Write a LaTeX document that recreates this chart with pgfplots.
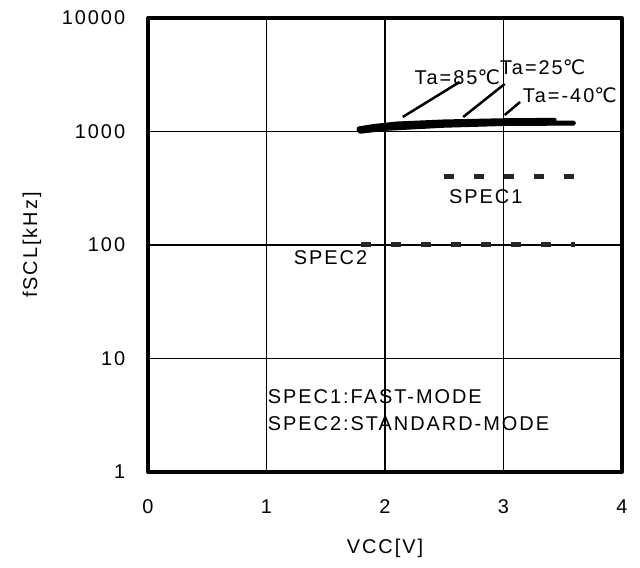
\documentclass[border=0pt]{standalone}
\usepackage{fontspec}
\setmainfont{Liberation Sans}[LetterSpace=10]
\newfontfamily\dejavu{DejaVu Sans}
\usepackage{pgfplots}
\pgfplotsset{compat=1.18}
\newcommand{\degc}{{\dejavu ℃}}
\begin{document}
\fontsize{20}{24}\selectfont
\begin{tikzpicture}
\path[use as bounding box] (-148bp,-96bp) rectangle (492bp,472bp);
\begin{axis}[
    scale only axis,
    width=474bp, height=454bp,
    xmin=0, xmax=4,
    ymode=log, ymin=1, ymax=10000,
    xtick={0,1,2,3,4},
    ytick={1,10,100,1000,10000},
    yticklabels={1,10,100,1000,10000},
    /pgf/number format/assume math mode=true,
    xmajorgrids=true, ymajorgrids=true,
    major grid style={black, line width=1.3bp},
    major tick length=0pt, minor tick length=0pt,
    axis line style={line width=4bp, line join=round},
    xticklabel style={yshift=-21bp},
    yticklabel style={xshift=-16bp},
    xlabel={VCC[V]}, ylabel={fSCL[kHz]},
    every axis x label/.style={at={(axis description cs:0.5,0)}, anchor=center, yshift=-76bp},
    every axis y label/.style={at={(axis description cs:-0.245,0.5)}, rotate=90, anchor=center},
    clip=false,
]
% Ta=85C
\addplot[black, line width=4.5bp, line cap=round] coordinates {(1.78,1060)(1.9,1110)(2.1,1170)(2.5,1220)(3.0,1250)(3.43,1260)};
% Ta=25C
\addplot[black, line width=4.5bp, line cap=round] coordinates {(1.78,1040)(2.0,1110)(2.5,1170)(3.0,1190)(3.59,1190)};
% Ta=-40C
\addplot[black, line width=4.5bp, line cap=round] coordinates {(1.79,1000)(2.0,1060)(2.5,1130)(3.0,1170)(3.59,1180)};
% SPEC1 / SPEC2
\addplot[black!85, line width=4.5bp, dash pattern=on 10bp off 20bp] coordinates {(2.5,400)(3.6,400)};
\addplot[black!85, line width=5bp, dash pattern=on 10bp off 20bp] coordinates {(1.8,100)(3.6,100)};
% leader lines
\draw[line width=2.5bp] (axis cs:2.15,1343) -- (axis cs:2.63,2730);
\draw[line width=2.5bp] (axis cs:2.66,1343) -- (axis cs:3.01,2623);
\draw[line width=2.5bp] (axis cs:3.01,1397) -- (axis cs:3.14,1820);
\node at (axis cs:2.61,3020) {Ta=85\degc};
\node at (axis cs:3.33,3700) {Ta=25\degc};
\node at (axis cs:3.56,2098) {Ta=-40\degc};
\node at (axis cs:2.85,265) {SPEC1};
\node at (axis cs:1.54,78) {SPEC2};
\node[anchor=west, inner sep=0pt] at (axis cs:1.01,4.58) {SPEC1:FAST-MODE};
\node[anchor=west, inner sep=0pt] at (axis cs:1.01,2.65) {SPEC2:STANDARD-MODE};
\end{axis}
\end{tikzpicture}
\end{document}
